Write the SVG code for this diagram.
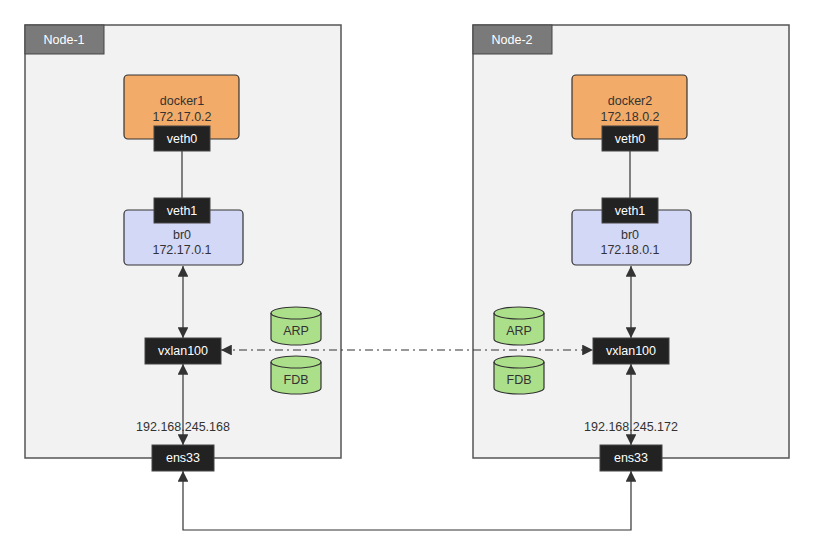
<svg xmlns="http://www.w3.org/2000/svg" width="813" height="556" viewBox="0 0 813 556">
<style>
text{font-family:"Liberation Sans",Arial,sans-serif;font-size:12.5px;text-anchor:middle;fill:#333}
.node{fill:#f2f2f2;stroke:#555;stroke-width:1.5}
.tab{fill:#7a7a7a;stroke:#444}
.w{fill:#fff}
.dk{fill:#222;stroke:#444}
.doc{fill:#f2ab68;stroke:#333;stroke-width:1.2}
.br{fill:#d4d8f7;stroke:#333;stroke-width:1.2}
.cyl{fill:#acdf8a;stroke:#333;stroke-width:1.2}
.ln{stroke:#333;stroke-width:1.2;fill:none}
</style>
<defs>
<marker id="a" viewBox="0 0 10 10" refX="10" refY="5" markerWidth="9" markerHeight="9" orient="auto-start-reverse"><path d="M0,0L10,5L0,10z" fill="#333"/></marker>
<g id="cyl"><path class="cyl" d="M0,6 A25,6 0 0 1 50,6 V32 A25,6 0 0 1 0,32 Z"/><path class="ln" d="M0,6 A25,6 0 0 0 50,6"/></g>
</defs>
<g id="node1">
<rect class="node" x="25" y="25" width="316" height="433"/>
<rect class="tab" x="25" y="25" width="79" height="29"/><text class="w" x="64" y="44">Node-1</text>
</g>
<g id="node2">
<rect class="node" x="473" y="25" width="316" height="433"/>
<rect class="tab" x="473" y="25" width="79" height="29"/><text class="w" x="512" y="44">Node-2</text>
</g>
<g id="connectors">
<path class="ln" d="M182,151V198"/>
<path class="ln" d="M630,151V198"/>
<path class="ln" d="M183,266V338" marker-start="url(#a)" marker-end="url(#a)"/>
<path class="ln" d="M631,266V338" marker-start="url(#a)" marker-end="url(#a)"/>
<path class="ln" d="M183,364V445" marker-start="url(#a)" marker-end="url(#a)"/>
<path class="ln" d="M631,364V445" marker-start="url(#a)" marker-end="url(#a)"/>
<path class="ln" d="M221,350H593" stroke-dasharray="8,4,2,4" marker-start="url(#a)" marker-end="url(#a)"/>
<path class="ln" d="M183,471V530H631V471" marker-start="url(#a)" marker-end="url(#a)"/>
</g>
<g id="docker1"><rect class="doc" x="124" y="75" width="115" height="64" rx="4"/><text x="182" y="105">docker1</text><text x="182" y="121">172.17.0.2</text></g>
<g id="br0-1"><rect class="br" x="124" y="210" width="119" height="55" rx="4"/><text x="182" y="239">br0</text><text x="182" y="254">172.17.0.1</text></g>
<g id="veth0-1"><rect class="dk" x="154" y="126" width="56" height="25"/><text class="w" x="182" y="143">veth0</text></g>
<g id="veth1-1"><rect class="dk" x="154" y="198" width="56" height="25"/><text class="w" x="182" y="215">veth1</text></g>
<g id="vxlan-1"><rect class="dk" x="145" y="338" width="76" height="26"/><text class="w" x="183" y="355">vxlan100</text></g>
<g id="ens33-1"><rect class="dk" x="152" y="445" width="62" height="26"/><text class="w" x="183" y="462">ens33</text></g>
<text x="183" y="431">192.168.245.168</text>
<g id="arp1"><use href="#cyl" x="271" y="307"/><text x="296" y="335">ARP</text></g>
<g id="fdb1"><use href="#cyl" x="271" y="356"/><text x="296" y="384">FDB</text></g>
<g id="docker2"><rect class="doc" x="572" y="75" width="115" height="64" rx="4"/><text x="630" y="105">docker2</text><text x="630" y="121">172.18.0.2</text></g>
<g id="br0-2"><rect class="br" x="572" y="210" width="119" height="55" rx="4"/><text x="630" y="239">br0</text><text x="630" y="254">172.18.0.1</text></g>
<g id="veth0-2"><rect class="dk" x="602" y="126" width="56" height="25"/><text class="w" x="630" y="143">veth0</text></g>
<g id="veth1-2"><rect class="dk" x="602" y="198" width="56" height="25"/><text class="w" x="630" y="215">veth1</text></g>
<g id="vxlan-2"><rect class="dk" x="593" y="338" width="76" height="26"/><text class="w" x="631" y="355">vxlan100</text></g>
<g id="ens33-2"><rect class="dk" x="600" y="445" width="62" height="26"/><text class="w" x="631" y="462">ens33</text></g>
<text x="631" y="431">192.168.245.172</text>
<g id="arp2"><use href="#cyl" x="494" y="307"/><text x="519" y="335">ARP</text></g>
<g id="fdb2"><use href="#cyl" x="494" y="356"/><text x="519" y="384">FDB</text></g>
</svg>
